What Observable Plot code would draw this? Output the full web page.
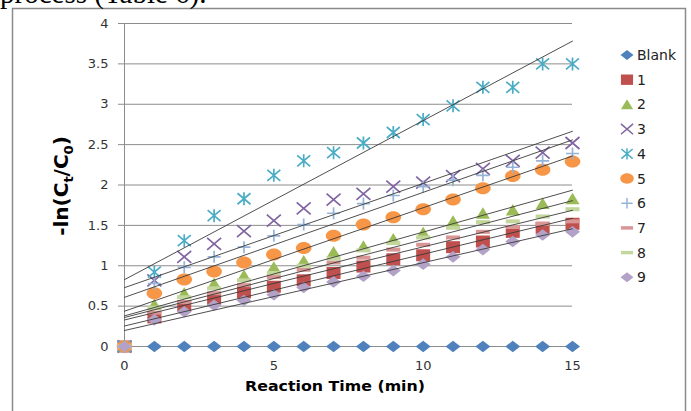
<!DOCTYPE html>
<html><head><meta charset="utf-8">
<script src="https://cdn.jsdelivr.net/npm/d3@7"></script>
<script src="https://cdn.jsdelivr.net/npm/@observablehq/plot@0.6"></script>
<style>
body{margin:0;background:#fff;}
#chart{position:relative;width:691px;height:411px;overflow:hidden;}
</style></head><body><div id="chart"></div>
<script>
// ---- data ----
const times = [0,1,2,3,4,5,6,7,8,9,10,11,12,13,14,15];
const seriesNames = ["Blank","1","2","3","4","5","6","7","8","9"];
const blank = [0,0,0,0,0,0,0,0,0,0,0,0,0,0,0,0];
const s1 = [0,0.36,0.50,0.59,0.67,0.74,0.82,0.91,0.99,1.08,1.13,1.23,1.30,1.42,1.47,1.52];
const s2 = [0,0.52,0.66,0.78,0.88,0.98,1.06,1.17,1.24,1.33,1.41,1.55,1.65,1.69,1.77,1.83];
const s3 = [0,0.82,1.11,1.27,1.43,1.56,1.71,1.82,1.89,1.98,2.03,2.11,2.20,2.30,2.40,2.52];
const s4 = [0,0.92,1.31,1.62,1.83,2.12,2.30,2.40,2.52,2.65,2.81,2.98,3.21,3.21,3.50,3.50];
const s5 = [0,0.66,0.83,0.93,1.04,1.14,1.22,1.37,1.51,1.60,1.70,1.82,1.96,2.11,2.19,2.29];
const s6 = [0,0.78,0.98,1.11,1.23,1.37,1.51,1.65,1.77,1.87,1.98,2.06,2.12,2.22,2.30,2.39];
const s7 = [0,0.42,0.55,0.66,0.76,0.86,0.95,1.04,1.10,1.20,1.26,1.35,1.42,1.48,1.52,1.55];
const s8 = [0,0.48,0.61,0.72,0.82,0.91,1.00,1.09,1.19,1.28,1.35,1.47,1.54,1.55,1.61,1.70];
const s9 = [0,0.33,0.43,0.51,0.57,0.64,0.73,0.80,0.87,0.94,1.02,1.11,1.20,1.30,1.38,1.42];
const seriesValues = [blank,s1,s2,s3,s4,s5,s6,s7,s8,s9];
const yTicks = [0,0.5,1,1.5,2,2.5,3,3.5,4];
const xTicks = [0,5,10,15];
const xTitle = "Reaction Time (min)";
const topText = "process (Table 6).";

// ---- styles ----
function sym(fn){ return {draw(c, size){ const k = Math.sqrt(size/Math.PI)/6; fn(c,k); }}; }
const K = 0.5523;
const shapes = {
  diamond: sym((c,k)=>{c.moveTo(0,-5.8*k);c.lineTo(7.5*k,0);c.lineTo(0,5.8*k);c.lineTo(-7.5*k,0);c.closePath();}),
  square: sym((c,k)=>{c.rect(-7*k,-6*k,14*k,12*k);}),
  triangle: sym((c,k)=>{c.moveTo(0,-6*k);c.lineTo(7*k,5.5*k);c.lineTo(-7*k,5.5*k);c.closePath();}),
  ellipse: sym((c,k)=>{const a=7.8*k,b=6*k;c.moveTo(a,0);c.bezierCurveTo(a,b*K,a*K,b,0,b);c.bezierCurveTo(-a*K,b,-a,b*K,-a,0);c.bezierCurveTo(-a,-b*K,-a*K,-b,0,-b);c.bezierCurveTo(a*K,-b,a,-b*K,a,0);c.closePath();}),
  times: sym((c,k)=>{c.moveTo(-7*k,-6*k);c.lineTo(7*k,6*k);c.moveTo(-7*k,6*k);c.lineTo(7*k,-6*k);}),
  asterisk: sym((c,k)=>{c.moveTo(-6.5*k,-5.5*k);c.lineTo(6.5*k,5.5*k);c.moveTo(-6.5*k,5.5*k);c.lineTo(6.5*k,-5.5*k);c.moveTo(0,-6.5*k);c.lineTo(0,6.5*k);}),
  plus: sym((c,k)=>{c.moveTo(-6.5*k,0);c.lineTo(6.5*k,0);c.moveTo(0,-6*k);c.lineTo(0,6*k);}),
  dash: sym((c,k)=>{c.rect(-7*k,-2*k,14*k,4*k);})
};
const styles = [
  {symbol: shapes.diamond, fill: "#4F81BD"},
  {symbol: shapes.square, fill: "#C0504D"},
  {symbol: shapes.triangle, fill: "#9BBB59"},
  {symbol: shapes.times, stroke: "#8064A2"},
  {symbol: shapes.asterisk, stroke: "#4BACC6"},
  {symbol: shapes.ellipse, fill: "#F79646"},
  {symbol: shapes.plus, stroke: "#95B3D7"},
  {symbol: shapes.dash, fill: "#D99694"},
  {symbol: shapes.dash, fill: "#C3D69B"},
  {symbol: shapes.diamond, fill: "#B3A2C7"}
];

const table = [];
seriesNames.forEach((name, i) => times.forEach((t, j) => table.push({series: name, idx: i, t, v: seriesValues[i][j]})));

const dotMarks = seriesNames.map((name, i) => {
  const st = styles[i];
  return Plot.dot(table.filter(d => d.idx === i), {
    x: "t", y: "v", r: 6, symbol: st.symbol,
    fill: st.fill || "none", stroke: st.stroke || "none",
    strokeWidth: st.stroke ? 1.7 : 0
  });
});

const chart = Plot.plot({
  width: 691, height: 411,
  marginLeft: 124, marginRight: 119, marginTop: 23, marginBottom: 65,
  style: {fontFamily: "DejaVu Sans", fontSize: "13px", background: "white", color: "#333"},
  x: {domain: [0, 15]},
  y: {domain: [0, 4]},
  marks: [
    Plot.gridY(yTicks.filter(d => d > 0), {stroke: "#8c8c8c", strokeOpacity: 1}),
    Plot.ruleY([0], {stroke: "#8c8c8c"}),
    Plot.ruleX([0], {stroke: "#8c8c8c"}),
    Plot.axisY(yTicks, {tickSize: 6, tickPadding: 10, stroke: "#8c8c8c", fill: "#333", label: null, tickFormat: d => String(d)}),
    Plot.axisX(xTicks, {tickSize: 0, tickPadding: 14, fill: "#333", label: null, tickFormat: d => String(d)}),
    ...dotMarks,
    Plot.linearRegressionY(table.filter(d => d.idx > 0), {x: "t", y: "v", z: "series", ci: 0, stroke: "#3a3a3a", strokeWidth: 0.9})
  ]
});

const svg = d3.select(chart);
// outer border
svg.append("rect").attr("x", 12.5).attr("y", 8.5).attr("width", 673).attr("height", 500)
  .attr("fill", "none").attr("stroke", "#8a8a8a").attr("stroke-width", 1.5);
// top clipped text
svg.append("text").attr("x", 0).attr("y", 3).attr("text-anchor", "start").attr("font-family", "Liberation Serif").attr("font-size", 29)
  .attr("fill", "#000").text(topText);
// y title
const yt = svg.append("text").attr("transform", "translate(68,186) rotate(-90)")
  .attr("text-anchor", "middle").attr("font-family", "DejaVu Sans").attr("font-weight", "bold")
  .attr("font-size", 20).attr("fill", "#000");
yt.append("tspan").text("-ln(C");
yt.append("tspan").attr("font-size", 13).attr("dy", 5).text("t");
yt.append("tspan").attr("dy", -5).text("/C");
yt.append("tspan").attr("font-size", 13).attr("dy", 5).text("0");
yt.append("tspan").attr("dy", -5).text(")");
// x title
svg.append("text").attr("x", 335).attr("y", 391).attr("text-anchor", "middle")
  .attr("font-family", "DejaVu Sans").attr("font-weight", "bold").attr("font-size", 14)
  .attr("textLength", 180).attr("lengthAdjust", "spacingAndGlyphs")
  .attr("fill", "#000").text(xTitle);
// legend
const lg = svg.append("g");
seriesNames.forEach((name, i) => {
  const y = 55 + i * 24.7;
  const st = styles[i];
  lg.append("path").attr("transform", `translate(627,${y})`)
    .attr("d", d3.symbol(st.symbol).size(Math.PI * 5.2 * 5.2)())
    .attr("fill", st.fill || "none").attr("stroke", st.stroke || "none").attr("stroke-width", st.stroke ? 1.5 : 0);
  lg.append("text").attr("x", 637).attr("y", y + 5).attr("text-anchor", "start").attr("font-family", "DejaVu Sans").attr("font-size", 14)
    .attr("fill", "#222").text(name);
});

document.getElementById("chart").appendChild(chart);
</script></body></html>
